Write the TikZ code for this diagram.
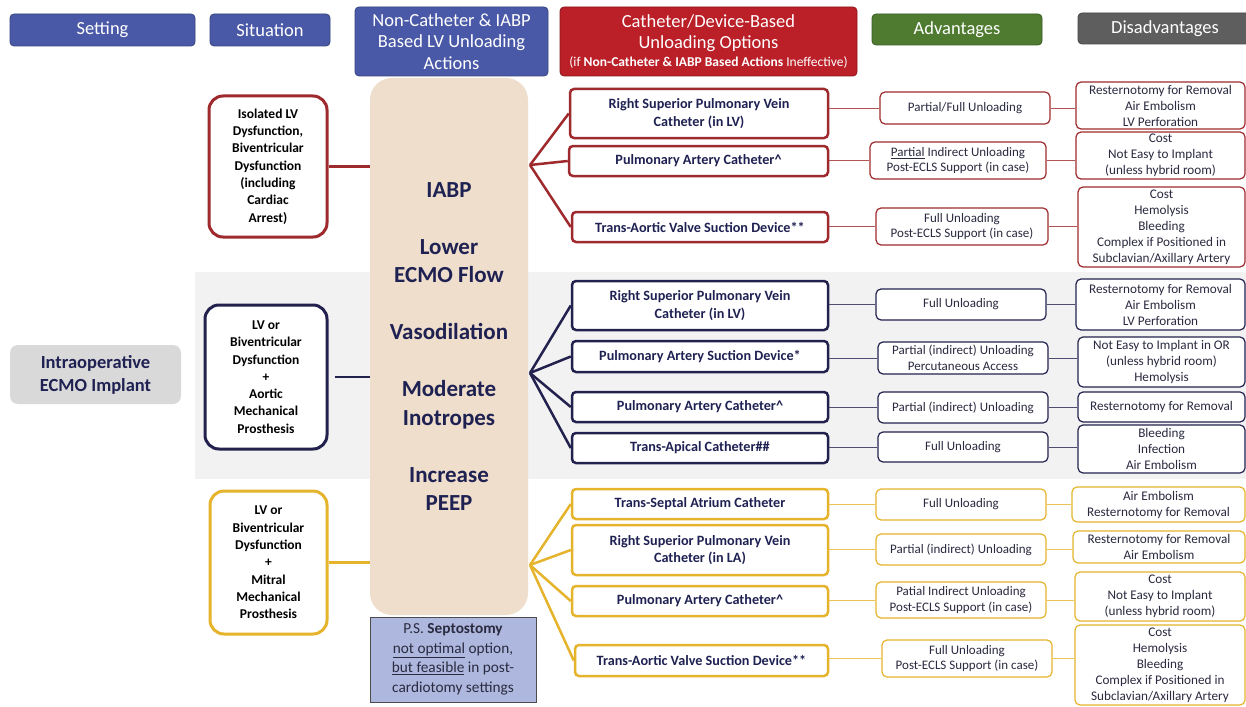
\documentclass[tikz,border=0pt]{standalone}
\usepackage{fontspec}
\setmainfont{Carlito}
\definecolor{hblue}{HTML}{4A59A7}
\definecolor{hred}{HTML}{BB1F28}
\definecolor{hgreen}{HTML}{4F7B31}
\definecolor{hgray}{HTML}{5E5E5E}
\definecolor{cred}{HTML}{9E2A2D}
\definecolor{cnavy}{HTML}{23224F}
\definecolor{cyel}{HTML}{E6B42C}
\definecolor{peach}{HTML}{EEDECB}
\definecolor{psfill}{HTML}{AEB8DE}
\definecolor{bandgray}{HTML}{F2F2F2}
\definecolor{setgray}{HTML}{D9D9D9}
\definecolor{tnavy}{HTML}{1E2152}
\definecolor{tbody}{HTML}{2A2A40}
\newcommand\bx[7]{%
 \pgfmathsetmacro\bxw{#4-#2}%
 \pgfmathsetmacro\bxh{#5-#3}%
 \pgfmathsetmacro\bxcx{(#2+#4)/2}%
 \pgfmathsetmacro\bxcy{(#3+#5)/2}%
 \node[#6, minimum width=\bxw pt, minimum height=\bxh pt] (#1) at (\bxcx,\bxcy) {#7};%
}
\begin{document}
\begin{tikzpicture}[x=1pt,y=-1pt,
 hdrbox/.style={rounded corners=4pt, fill=#1, draw=#1!75!black, line width=0.8pt, text=white, font=\fontsize{18.5}{21.5}\selectfont, align=center, inner sep=0pt},
 sitbox/.style={draw=#1, line width=3pt, rounded corners=14pt, fill=white, align=center, text=black, font=\bfseries\fontsize{13.5}{17.3}\selectfont, inner sep=0pt},
 catbox/.style={draw=#1, line width=2.5pt, rounded corners=4pt, fill=white, text=tnavy, font=\bfseries\fontsize{14.2}{17.5}\selectfont, align=center, inner sep=0pt},
 advbox/.style={draw=#1, line width=1.2pt, rounded corners=5pt, fill=white, text=tbody, font=\fontsize{13}{15.5}\selectfont, align=center, inner sep=0pt},
 disbox/.style={advbox=#1, font=\fontsize{13.2}{16}\selectfont},
 fanline/.style={draw=#1, line width=2.5pt},
 linkline/.style={draw=#1, line width=0.9pt}
]
\useasboundingbox (0,0) rectangle (1246,706);
\fill[white] (0,0) rectangle (1246,706);
\fill[bandgray] (195,272) rectangle (1246,479);

% headers
\bx{hset}{10}{14}{195}{46}{hdrbox=hblue}{Setting}
\bx{hsit}{210}{14}{330}{46}{hdrbox=hblue}{Situation}
\bx{hnon}{355}{7}{548}{76}{hdrbox=hblue}{Non-Catheter \& IABP\\Based LV Unloading\\Actions}
\bx{hcat}{560}{7}{857}{76}{hdrbox=hred}{Catheter/Device-Based\\Unloading Options\\[-4pt]{\fontsize{13.5}{15}\selectfont(if \textbf{Non-Catheter \& IABP Based Actions} Ineffective)}}
\bx{hadv}{872}{14}{1042}{45}{hdrbox=hgreen}{Advantages}
\bx{hdis}{1078}{13}{1252}{44}{hdrbox=hgray}{Disadvantages}

% setting
\bx{set}{10}{345}{181}{404}{fill=setgray, rounded corners=8pt, text=tnavy, font=\bfseries\fontsize{18.5}{23}\selectfont, align=center, inner sep=0pt}{Intraoperative\\ECMO Implant}

% central actions
\bx{act}{370}{78}{528}{615}{fill=peach, rounded corners=22pt, text=tnavy, font=\bfseries\fontsize{23}{28.5}\selectfont, align=center, inner sep=0pt}{IABP\\[28.5pt]Lower\\ECMO Flow\\[28.5pt]Vasodilation\\[28.5pt]Moderate\\Inotropes\\[28.5pt]Increase\\PEEP}
\bx{ps}{370}{617}{536}{702}{fill=psfill, draw=black!70, line width=1pt, text=tbody, font=\fontsize{15.3}{19.5}\selectfont, align=center, inner sep=0pt}{P.S. \textbf{Septostomy}\\\underline{not optimal} option,\\\underline{but feasible} in post-\\cardiotomy settings}

% situations
\bx{sr}{209}{96}{327}{237}{sitbox=cred}{Isolated LV\\Dysfunction,\\Biventricular\\Dysfunction\\(including\\Cardiac\\Arrest)}
\bx{sn}{205}{305}{327}{449}{sitbox=cnavy}{LV or\\Biventricular\\Dysfunction\\+\\Aortic\\Mechanical\\Prosthesis}
\bx{sy}{210}{491}{327}{634}{sitbox=cyel}{LV or\\Biventricular\\Dysfunction\\+\\Mitral\\Mechanical\\Prosthesis}

\draw[fanline=cred] (sr.east) -- (sr.east -| act.west);
\draw[fanline=cnavy] ([xshift=6pt]sn.east) -- (sn.east -| act.west);
\draw[fanline=cyel] (sy.east) -- (sy.east -| act.west);

% fan points
\coordinate (fr) at (530,165);
\coordinate (fn) at (530,373);
\coordinate (fy) at (530,565);

% catheter boxes
\bx{r1}{570}{89}{828}{138}{catbox=cred}{Right Superior Pulmonary Vein\\Catheter (in LV)}
\bx{r2}{569}{146}{828}{176}{catbox=cred}{Pulmonary Artery Catheter\^{}}
\bx{r3}{572}{212}{828}{242}{catbox=cred}{Trans-Aortic Valve Suction Device**}
\bx{n1}{572}{281}{828}{330}{catbox=cnavy}{Right Superior Pulmonary Vein\\Catheter (in LV)}
\bx{n2}{572}{341}{828}{372}{catbox=cnavy}{Pulmonary Artery Suction Device*}
\bx{n3}{572}{392}{828}{422}{catbox=cnavy}{Pulmonary Artery Catheter\^{}}
\bx{n4}{572}{433}{828}{463}{catbox=cnavy}{Trans-Apical Catheter\#\#}
\bx{y1}{572}{489}{828}{519}{catbox=cyel}{Trans-Septal Atrium Catheter}
\bx{y2}{572}{525}{828}{575}{catbox=cyel}{Right Superior Pulmonary Vein\\Catheter (in LA)}
\bx{y3}{572}{586}{828}{616}{catbox=cyel}{Pulmonary Artery Catheter\^{}}
\bx{y4}{575}{645}{828}{676}{catbox=cyel}{Trans-Aortic Valve Suction Device**}

\foreach \t in {r1,r2,r3} \draw[fanline=cred] (fr) -- (\t.west);
\foreach \t in {n1,n2,n3,n4} \draw[fanline=cnavy] (fn) -- (\t.west);
\foreach \t in {y1,y2,y3,y4} \draw[fanline=cyel] (fy) -- (\t.west);

% advantages
\bx{ar1}{880}{92}{1050}{124}{advbox=cred}{Partial/Full Unloading}
\bx{ar2}{870}{142}{1046}{179}{advbox=cred}{\underline{Partial} Indirect Unloading\\Post-ECLS Support (in case)}
\bx{ar3}{876}{208}{1048}{245}{advbox=cred}{Full Unloading\\Post-ECLS Support (in case)}
\bx{an1}{876}{289}{1046}{320}{advbox=cnavy}{Full Unloading}
\bx{an2}{878}{342}{1048}{374}{advbox=cnavy}{Partial (indirect) Unloading\\Percutaneous Access}
\bx{an3}{878}{392}{1048}{423}{advbox=cnavy}{Partial (indirect) Unloading}
\bx{an4}{878}{432}{1048}{462}{advbox=cnavy}{Full Unloading}
\bx{ay1}{876}{489}{1046}{520}{advbox=cyel}{Full Unloading}
\bx{ay2}{876}{534}{1046}{565}{advbox=cyel}{Partial (indirect) Unloading}
\bx{ay3}{876}{582}{1046}{618}{advbox=cyel}{Patial Indirect Unloading\\Post-ECLS Support (in case)}
\bx{ay4}{882}{640}{1052}{677}{advbox=cyel}{Full Unloading\\Post-ECLS Support (in case)}

% disadvantages
\bx{dr1}{1076}{82}{1245}{129}{disbox=cred}{Resternotomy for Removal\\Air Embolism\\LV Perforation}
\bx{dr2}{1076}{132}{1245}{179}{disbox=cred}{Cost\\Not Easy to Implant\\(unless hybrid room)}
\bx{dr3}{1078}{187}{1245}{267}{disbox=cred}{Cost\\Hemolysis\\Bleeding\\Complex if Positioned in\\Subclavian/Axillary Artery}
\bx{dn1}{1076}{279}{1245}{330}{disbox=cnavy}{Resternotomy for Removal\\Air Embolism\\LV Perforation}
\bx{dn2}{1078}{337}{1245}{387}{disbox=cnavy}{Not Easy to Implant in OR\\(unless hybrid room)\\Hemolysis}
\bx{dn3}{1078}{392}{1245}{422}{disbox=cnavy}{Resternotomy for Removal}
\bx{dn4}{1078}{425}{1245}{473}{disbox=cnavy}{Bleeding\\Infection\\Air Embolism}
\bx{dy1}{1072}{487}{1245}{522}{disbox=cyel}{Air Embolism\\Resternotomy for Removal}
\bx{dy2}{1073}{531}{1245}{563}{disbox=cyel}{Resternotomy for Removal\\Air Embolism}
\bx{dy3}{1075}{572}{1245}{621}{disbox=cyel}{Cost\\Not Easy to Implant\\(unless hybrid room)}
\bx{dy4}{1075}{625}{1245}{705}{disbox=cyel}{Cost\\Hemolysis\\Bleeding\\Complex if Positioned in\\Subclavian/Axillary Artery}

% links
\foreach \c/\a/\d in {r1/ar1/dr1, r2/ar2/dr2, r3/ar3/dr3}{
 \draw[linkline=cred!80] (\c.east |- \a.west) -- (\a.west);
 \draw[linkline=cred!80] (\a.east) -- (\d.west |- \a.east);
}
\foreach \c/\a/\d in {n1/an1/dn1, n2/an2/dn2, n3/an3/dn3, n4/an4/dn4}{
 \draw[linkline=cnavy!80] (\c.east |- \a.west) -- (\a.west);
 \draw[linkline=cnavy!80] (\a.east) -- (\d.west |- \a.east);
}
\foreach \c/\a/\d in {y1/ay1/dy1, y2/ay2/dy2, y3/ay3/dy3, y4/ay4/dy4}{
 \draw[linkline=cyel!80] (\c.east |- \a.west) -- (\a.west);
 \draw[linkline=cyel!80] (\a.east) -- (\d.west |- \a.east);
}
\end{tikzpicture}
\end{document}
